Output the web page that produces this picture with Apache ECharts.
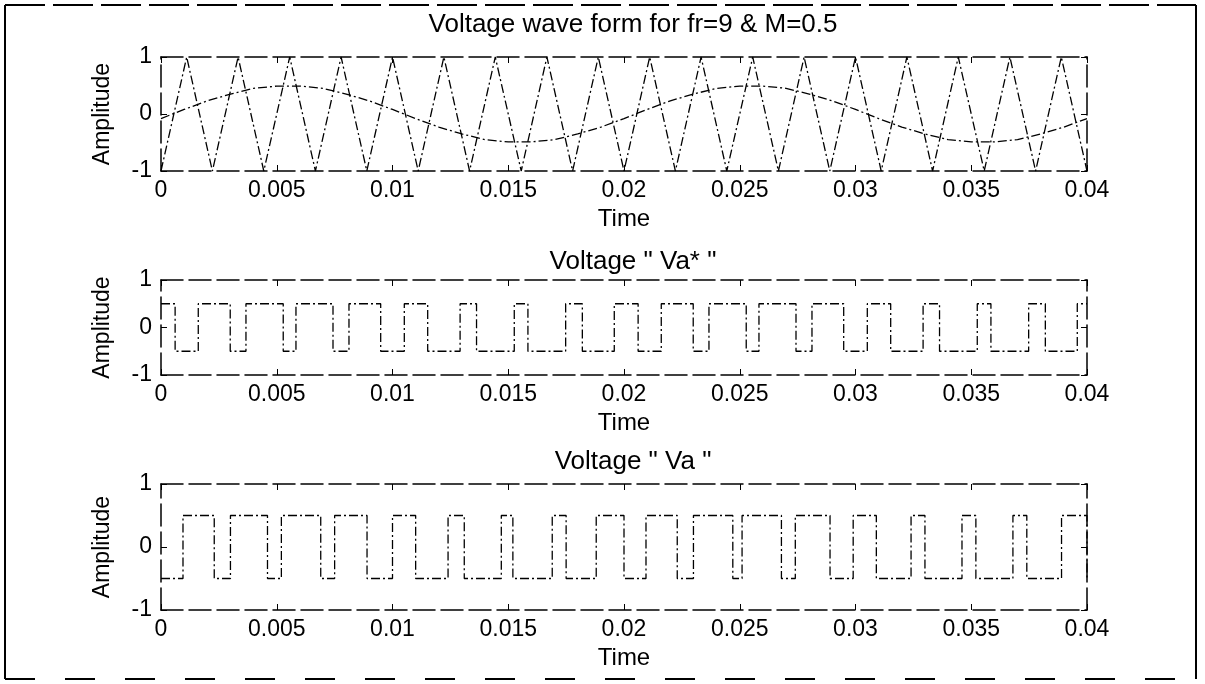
<!DOCTYPE html>
<html><head><meta charset="utf-8">
<script src="https://cdn.jsdelivr.net/npm/echarts@6/dist/echarts.min.js"></script>
<style>html,body{margin:0;padding:0;background:#fff}#c{width:1205px;height:684px}</style>
</head><body><div id="c"></div>
<script>
// ---- data ----
const xTickStep = 0.005;
const yTickStep = 1;

// triangular carrier vertices (fr = 9 -> 450 Hz)
const carrierT = [0, 0.00111, 0.00222, 0.00333, 0.00444, 0.00556, 0.00667, 0.00778, 0.00889, 0.01,
  0.01111, 0.01222, 0.01333, 0.01444, 0.01556, 0.01667, 0.01778, 0.01889, 0.02,
  0.02111, 0.02222, 0.02333, 0.02444, 0.02556, 0.02667, 0.02778, 0.02889, 0.03,
  0.03111, 0.03222, 0.03333, 0.03444, 0.03556, 0.03667, 0.03778, 0.03889, 0.04];
const carrierV = [-1, 1, -1, 1, -1, 1, -1, 1, -1, 1, -1, 1, -1, 1, -1, 1, -1, 1, -1,
  1, -1, 1, -1, 1, -1, 1, -1, 1, -1, 1, -1, 1, -1, 1, -1, 1, -1];

// reference (modulating) wave, sampled every 1 ms
const refT = [0, 0.001, 0.002, 0.003, 0.004, 0.005, 0.006, 0.007, 0.008, 0.009, 0.01,
  0.011, 0.012, 0.013, 0.014, 0.015, 0.016, 0.017, 0.018, 0.019, 0.02,
  0.021, 0.022, 0.023, 0.024, 0.025, 0.026, 0.027, 0.028, 0.029, 0.03,
  0.031, 0.032, 0.033, 0.034, 0.035, 0.036, 0.037, 0.038, 0.039, 0.04];
const refV = [-0.08, 0.08, 0.23, 0.35, 0.45, 0.49, 0.49, 0.45, 0.35, 0.23, 0.08,
  -0.08, -0.23, -0.35, -0.45, -0.49, -0.49, -0.45, -0.35, -0.23, -0.08,
  0.08, 0.23, 0.35, 0.45, 0.49, 0.49, 0.45, 0.35, 0.23, 0.08,
  -0.08, -0.23, -0.35, -0.45, -0.49, -0.49, -0.45, -0.35, -0.23, -0.08];

// Va* : switching instants and level held after each instant
const vaStarT = [0, 0.00061, 0.00161, 0.00299, 0.00367, 0.00528, 0.00583, 0.00743, 0.00812, 0.00949,
  0.01051, 0.01152, 0.01292, 0.01363, 0.01526, 0.01585, 0.01748, 0.0182, 0.01958, 0.02061,
  0.02161, 0.02299, 0.02367, 0.02528, 0.02583, 0.02743, 0.02812, 0.02949, 0.03051, 0.03152,
  0.03292, 0.03363, 0.03526, 0.03585, 0.03748, 0.0382, 0.03958, 0.04];
const vaStarV = [0.5, -0.5, 0.5, -0.5, 0.5, -0.5, 0.5, -0.5, 0.5, -0.5,
  0.5, -0.5, 0.5, -0.5, 0.5, -0.5, 0.5, -0.5, 0.5, -0.5,
  0.5, -0.5, 0.5, -0.5, 0.5, -0.5, 0.5, -0.5, 0.5, -0.5,
  0.5, -0.5, 0.5, -0.5, 0.5, -0.5, 0.5, 0.5];

// Va : switching instants and level held after each instant
const vaT = [0, 0.00095, 0.0023, 0.003, 0.0046, 0.0052, 0.0069, 0.0075, 0.0089, 0.01,
  0.011, 0.0124, 0.0131, 0.0147, 0.0152, 0.0169, 0.0175, 0.0188, 0.02, 0.02095,
  0.0223, 0.023, 0.0247, 0.0251, 0.0268, 0.0274, 0.0289, 0.0299, 0.0309, 0.0324,
  0.033, 0.0346, 0.0352, 0.0368, 0.0374, 0.0389, 0.04];
const vaV = [-0.5, 0.5, -0.5, 0.5, -0.5, 0.5, -0.5, 0.5, -0.5, 0.5,
  -0.5, 0.5, -0.5, 0.5, -0.5, 0.5, -0.5, 0.5, -0.5, 0.5,
  -0.5, 0.5, -0.5, 0.5, -0.5, 0.5, -0.5, 0.5, -0.5, 0.5,
  -0.5, 0.5, -0.5, 0.5, -0.5, 0.5, -0.5];

const titles = ['Voltage wave form for fr=9 & M=0.5', 'Voltage " Va* "', 'Voltage " Va "'];
const xName = 'Time';
const yName = 'Amplitude';

// ---- chart ----
const FONT = '"Liberation Sans", Arial, Helvetica, sans-serif';
const pairs = (t, v) => t.map((x, i) => [x, v[i]]);
const grids = [
  {left: 161, width: 926, top: 57, height: 114},
  {left: 161, width: 926, top: 280, height: 95},
  {left: 161, width: 926, top: 484, height: 126}
];
const titleTops = [7, 244, 444];
const boxLine = {show: true, onZero: false, lineStyle: {color: '#000', width: 1.5, type: [22, 6]}};
const sigStyle = {color: '#000', width: 1.3, type: [9, 3, 2, 3]};
const tick = {show: true, inside: true, length: 6, lineStyle: {color: '#000'}};

const xAxes = [], yAxes = [];
grids.forEach((g, i) => {
  xAxes.push({
    type: 'value', gridIndex: i, min: 0, max: 0.04, interval: xTickStep, position: 'bottom',
    name: xName, nameLocation: 'middle', nameGap: 36,
    nameTextStyle: {fontSize: 24, color: '#000', fontFamily: FONT},
    axisLine: boxLine, splitLine: {show: false}, axisTick: tick,
    axisLabel: {fontSize: 23, color: '#000', margin: 8, fontFamily: FONT}
  });
  xAxes.push({
    type: 'value', gridIndex: i, min: 0, max: 0.04, interval: xTickStep, position: 'top',
    axisLine: boxLine, splitLine: {show: false}, axisTick: tick,
    axisLabel: {show: false}
  });
  yAxes.push({
    type: 'value', gridIndex: i, min: -1, max: 1, interval: yTickStep, position: 'left',
    name: yName, nameLocation: 'middle', nameGap: 47, nameRotate: 90,
    nameTextStyle: {fontSize: 23, color: '#000', fontFamily: FONT},
    axisLine: boxLine, splitLine: {show: false}, axisTick: tick,
    axisLabel: {fontSize: 23, color: '#000', margin: 9, fontFamily: FONT}
  });
  yAxes.push({
    type: 'value', gridIndex: i, min: -1, max: 1, interval: yTickStep, position: 'right',
    axisLine: boxLine, splitLine: {show: false}, axisTick: tick,
    axisLabel: {show: false}
  });
});

const option = {
  animation: false,
  backgroundColor: '#fff',
  title: titles.map((t, i) => ({
    text: t, left: 628, top: titleTops[i], textAlign: 'center',
    textStyle: {fontSize: 26, fontWeight: 'normal', color: '#000', fontFamily: FONT}
  })),
  grid: grids,
  xAxis: xAxes,
  yAxis: yAxes,
  series: [
    {type: 'line', xAxisIndex: 0, yAxisIndex: 0, data: pairs(carrierT, carrierV), showSymbol: false, lineStyle: sigStyle},
    {type: 'line', xAxisIndex: 0, yAxisIndex: 0, data: pairs(refT, refV), showSymbol: false, lineStyle: sigStyle},
    {type: 'line', xAxisIndex: 2, yAxisIndex: 2, step: 'end', data: pairs(vaStarT, vaStarV), showSymbol: false, lineStyle: sigStyle},
    {type: 'line', xAxisIndex: 4, yAxisIndex: 4, step: 'end', data: pairs(vaT, vaV), showSymbol: false, lineStyle: sigStyle}
  ],
  graphic: [
    {type: 'line', shape: {x1: 5, y1: 5, x2: 1196, y2: 5}, style: {stroke: '#000', lineWidth: 2, lineDash: [40, 8]}},
    {type: 'line', shape: {x1: 5, y1: 679, x2: 1196, y2: 679}, style: {stroke: '#000', lineWidth: 2, lineDash: [30, 30]}},
    {type: 'line', shape: {x1: 5, y1: 5, x2: 5, y2: 679}, style: {stroke: '#000', lineWidth: 2}},
    {type: 'line', shape: {x1: 1196, y1: 5, x2: 1196, y2: 679}, style: {stroke: '#000', lineWidth: 2}}
  ]
};
const chart = echarts.init(document.getElementById('c'), null, {renderer: 'canvas'});
chart.setOption(option);
</script>
</body></html>
